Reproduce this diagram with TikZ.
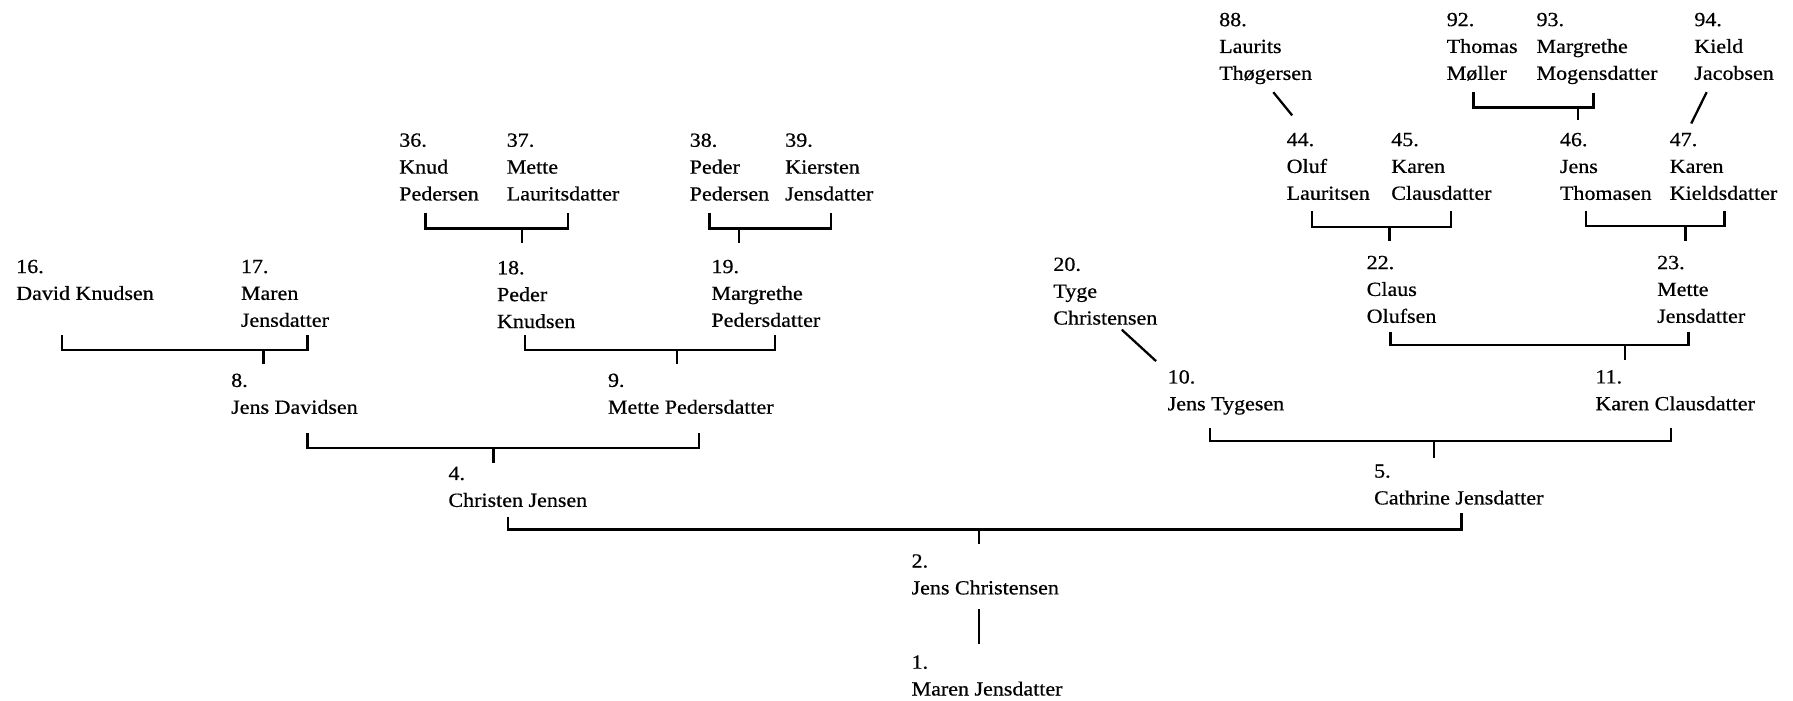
\documentclass[tikz,border=0pt]{standalone}
\usepackage{fontspec}
\setmainfont{Liberation Serif}[FakeStretch=1.1,FakeBold=0.6]
\begin{document}
\begin{tikzpicture}[x=1pt,y=-1pt,
  person/.style={anchor=north west, inner sep=0pt, align=left,
    font=\fontsize{17.5}{23.5}\selectfont},
  link/.style={line width=2pt, line cap=butt, line join=miter}]
\useasboundingbox (0,0) rectangle (1568,613);
% ---- persons ----
\node[person] (n1)  at (797,573) {1.\\Maren Jensdatter};
\node[person] (n2)  at (797,484.5)   {2.\\Jens Christensen};
\node[person] (n4)  at (392,408) {4.\\Christen Jensen};
\node[person] (n5)  at (1201.5,406) {5.\\Cathrine Jensdatter};
\node[person] (n8)  at (202,326.5)   {8.\\Jens Davidsen};
\node[person] (n9)  at (531.5,326.5) {9.\\Mette Pedersdatter};
\node[person] (n10) at (1021,323.5)  {10.\\Jens Tygesen};
\node[person] (n11) at (1395,323.5)  {11.\\Karen Clausdatter};
\node[person] (n16) at (14,227)  {16.\\David Knudsen};
\node[person] (n17) at (210.5,227) {17.\\Maren\\Jensdatter};
\node[person] (n18) at (434.5,228) {18.\\Peder\\Knudsen};
\node[person] (n19) at (622,227) {19.\\Margrethe\\Pedersdatter};
\node[person] (n20) at (921,225) {20.\\Tyge\\Christensen};
\node[person] (n22) at (1195,223.5)  {22.\\Claus\\Olufsen};
\node[person] (n23) at (1449,223.5)  {23.\\Mette\\Jensdatter};
\node[person] (n36) at (349,116.5)   {36.\\Knud\\Pedersen};
\node[person] (n37) at (443,116.5)   {37.\\Mette\\Lauritsdatter};
\node[person] (n38) at (603,116.5)   {38.\\Peder\\Pedersen};
\node[person] (n39) at (686.5,116.5) {39.\\Kiersten\\Jensdatter};
\node[person] (n44) at (1125,116)  {44.\\Oluf\\Lauritsen};
\node[person] (n45) at (1216.5,116) {45.\\Karen\\Clausdatter};
\node[person] (n46) at (1364,116)  {46.\\Jens\\Thomasen};
\node[person] (n47) at (1460,116)  {47.\\Karen\\Kieldsdatter};
\node[person] (n88) at (1066,11)   {88.\\Laurits\\Thøgersen};
\node[person] (n92) at (1265,11)   {92.\\Thomas\\Møller};
\node[person] (n93) at (1343.5,11) {93.\\Margrethe\\Mogensdatter};
\node[person] (n94) at (1481.5,11) {94.\\Kield\\Jacobsen};
% ---- connector points ----
\coordinate (a16) at (54,293);    \coordinate (a17) at (269,293);
\coordinate (j8)  at (230.5,306); \coordinate (e8)  at (230.5,318);
\coordinate (a18) at (459,293);   \coordinate (a19) at (678,293);
\coordinate (j9)  at (592,306);   \coordinate (e9)  at (592,318);
\coordinate (a8)  at (269,379);   \coordinate (a9)  at (611.5,379);
\coordinate (j4)  at (431.5,392); \coordinate (e4)  at (431.5,405);
\coordinate (a36) at (372,186.5); \coordinate (a37) at (497,186.5);
\coordinate (j18) at (456.5,199.7); \coordinate (e18) at (456.5,212.8);
\coordinate (a38) at (620.5,186.5); \coordinate (a39) at (726.5,186.5);
\coordinate (j19) at (646.5,199.7); \coordinate (e19) at (646.5,212.8);
\coordinate (a4)  at (444,452);   \coordinate (a5)  at (1278,449);
\coordinate (j2)  at (856,463);   \coordinate (e2)  at (856,476);
\coordinate (t2)  at (856,532.8); \coordinate (t1)  at (856,563.3);
\coordinate (a44) at (1147.5,184.8); \coordinate (a45) at (1269,184.8);
\coordinate (j22) at (1215,198.7);   \coordinate (e22) at (1215,210.8);
\coordinate (a46) at (1387,184.8);   \coordinate (a47) at (1508,184.8);
\coordinate (j23) at (1474,197.8);   \coordinate (e23) at (1474,210.8);
\coordinate (a92) at (1288.5,80.6);  \coordinate (a93) at (1393.5,81.6);
\coordinate (j46) at (1380,94);      \coordinate (e46) at (1380,105.2);
\coordinate (s88) at (1113.5,80.6);  \coordinate (s44) at (1130,100.9);
\coordinate (s94) at (1492.5,80.6);  \coordinate (s47) at (1479,108);
\coordinate (a22) at (1216,290.4);   \coordinate (a23) at (1476.5,290.4);
\coordinate (j11) at (1421,302);     \coordinate (e11) at (1421,315);
\coordinate (s20) at (981,288.3);    \coordinate (s10) at (1011,315.8);
\coordinate (a10) at (1058,374);     \coordinate (a11) at (1461,374);
\coordinate (j5)  at (1254,385.8);   \coordinate (e5)  at (1254,400.3);
% ---- connectors ----
\draw[link] (a16) |- (j8) -| (a17);  \draw[link] (j8) -- (e8);
\draw[link] (a18) |- (j9) -| (a19);  \draw[link] (j9) -- (e9);
\draw[link] (a8)  |- (j4) -| (a9);   \draw[link] (j4) -- (e4);
\draw[link] (a36) |- (j18) -| (a37); \draw[link] (j18) -- (e18);
\draw[link] (a38) |- (j19) -| (a39); \draw[link] (j19) -- (e19);
\draw[link] (a4)  |- (j2) -| (a5);   \draw[link] (j2) -- (e2);
\draw[link] (t2) -- (t1);
\draw[link] (a44) |- (j22) -| (a45); \draw[link] (j22) -- (e22);
\draw[link] (a46) |- (j23) -| (a47); \draw[link] (j23) -- (e23);
\draw[link] (a92) |- (j46) -| (a93); \draw[link] (j46) -- (e46);
\draw[link] (s88) -- (s44);
\draw[link] (s94) -- (s47);
\draw[link] (a22) |- (j11) -| (a23); \draw[link] (j11) -- (e11);
\draw[link] (s20) -- (s10);
\draw[link] (a10) |- (j5) -| (a11);  \draw[link] (j5) -- (e5);
\end{tikzpicture}
\end{document}
